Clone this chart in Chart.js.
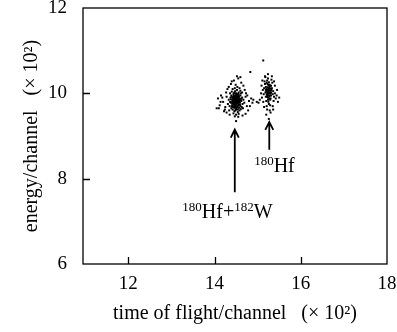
<!DOCTYPE html>
<html>
<head>
<meta charset="utf-8">
<script src="https://cdn.jsdelivr.net/npm/chart.js@4"></script>
<style>
  html, body { margin: 0; padding: 0; background: #fff; }
  #wrap { width: 397px; height: 332px; }
</style>
</head>
<body>
<div id="wrap"><canvas id="tofChart"></canvas></div>
<script>
// time of flight (x100 channel) / energy (x100 channel)
const hfwTof = [
  14.50,14.45,14.55,14.48,14.52,14.42,14.58,14.47,14.53,14.40,14.60,14.44,14.56,14.51,14.49,14.38,14.62,14.46,14.54,14.43,
  14.57,14.50,14.41,14.59,14.36,14.64,14.48,14.52,14.45,14.55,14.39,14.61,14.47,14.53,14.44,14.56,14.50,14.50,14.35,14.65,
  14.42,14.58,14.46,14.54,14.40,14.60,14.37,14.63,14.49,14.51,14.46,14.54,14.43,14.57,14.48,14.52,14.45,14.55,14.41,14.59,
  14.47,14.53,14.33,14.67,14.39,14.61,14.44,14.56,14.50,14.36,14.64,14.42,14.58,14.49,14.31,14.69,14.34,14.66,14.47,14.55,
  14.28,14.72,14.25,14.75,14.20,14.80,14.15,14.10,14.05,14.08,14.12,14.22,14.78,14.30,14.70,14.38,14.62,14.45,14.55,14.52,
  14.40,14.35,14.65,14.28,14.72,14.50,14.18,14.82,14.85,14.88,14.27,14.73,14.60,14.33,14.67,14.24,14.76,14.14,14.83,14.90,
  14.48,14.52,14.46,14.54,14.50,14.50,14.44,14.56,14.47,14.53,14.43,14.57,14.49,14.51,14.45,14.55,14.41,14.59,14.48,14.52,
  14.46,14.54,14.40,14.60,14.44,14.56,14.49,14.51,14.47,14.53,14.42,14.58,14.50,14.50,14.45,14.55,14.38,14.62,14.46,14.54
];
const hfwEnergy = [
  9.85,9.90,9.80,9.78,9.95,9.83,9.88,9.72,9.70,9.92,9.95,9.98,10.02,9.88,9.81,9.86,9.82,9.75,9.76,9.68,
  9.66,9.62,9.76,9.73,9.80,9.90,10.05,10.08,10.00,9.93,9.95,10.00,9.92,9.86,9.87,9.84,9.74,9.97,9.70,9.75,
  9.62,9.60,9.58,9.56,10.04,10.06,9.90,9.68,9.66,9.90,9.82,9.83,9.79,9.79,9.87,9.81,9.94,9.71,9.72,9.85,
  10.12,10.15,9.85,9.85,9.65,9.63,9.53,9.52,9.50,10.00,10.02,10.10,10.12,10.20,9.75,9.78,9.60,9.65,9.46,9.45,
  9.92,9.92,9.68,9.70,9.80,9.82,9.95,9.65,9.65,9.88,9.72,9.58,9.60,10.10,10.08,10.22,10.25,10.30,10.35,10.40,
  10.28,9.50,9.48,9.55,9.52,9.35,9.90,9.70,9.88,9.78,10.02,10.00,10.38,10.15,10.18,9.62,9.95,9.80,10.50,9.85,
  9.84,9.88,9.80,9.90,9.78,9.92,9.76,9.74,9.70,9.68,9.90,9.92,9.95,9.64,9.86,9.86,9.81,9.78,9.60,9.98,
  10.02,9.62,9.69,9.70,9.93,9.96,9.73,9.83,9.89,9.77,9.86,9.82,10.00,9.69,9.73,9.99,9.78,9.87,9.66,9.93
];
const hfTof = [
  15.25,15.20,15.30,15.22,15.28,15.18,15.32,15.24,15.26,15.15,15.35,15.21,15.29,15.23,15.27,15.19,15.31,15.25,15.17,15.33,
  15.22,15.28,15.14,15.36,15.20,15.30,15.24,15.26,15.16,15.34,15.12,15.38,15.21,15.29,15.18,15.32,15.25,15.23,15.27,15.19,
  15.31,15.10,15.40,15.13,15.37,15.22,15.28,15.15,15.35,15.42,15.45,15.08,15.05,15.02,14.98,15.44,15.40,15.11,15.20,15.30,
  15.26,15.17,15.33,15.13,15.47,15.50,15.38,15.24,15.09,15.36,
  15.24,15.26,15.22,15.28,15.25,15.25,15.21,15.29,15.23,15.27,15.20,15.30,15.24,15.26,15.22,15.28,15.19,15.31,15.23,15.27
];
const hfEnergy = [
  10.05,10.10,10.00,9.95,10.15,10.02,10.08,9.90,10.20,10.12,9.98,10.25,9.85,10.03,10.07,9.92,10.18,9.80,10.22,10.12,
  10.30,9.95,9.98,10.05,9.82,9.88,10.35,9.75,10.28,10.25,10.08,9.92,9.70,9.72,10.38,10.32,10.12,9.98,9.93,10.15,
  9.95,9.90,10.00,9.80,9.82,9.62,9.60,9.68,9.70,9.88,10.08,10.00,9.85,9.78,9.80,9.95,10.18,10.30,9.50,9.55,
  9.40,10.40,10.40,10.77,9.80,9.90,10.28,10.45,10.18,9.62,
  10.00,10.10,10.08,10.02,9.95,10.18,9.98,10.11,10.22,9.88,10.04,10.06,9.85,10.26,9.92,10.20,10.08,10.02,10.14,10.00
];

const xTicks = [12, 14, 16, 18];
const yTicks = [6, 8, 10, 12];

// arrows: x, tail energy, head energy
const arrowTof = [14.47, 15.27];
const arrowFrom = [7.68, 8.68];
const arrowTo = [9.15, 9.33];

// peak labels
const labelTof = [14.30, 15.39];
const labelEnergy = [7.08, 8.15];
const labelParts = [
  [['180', true], ['Hf+', false], ['182', true], ['W', false]],
  [['180', true], ['Hf', false]]
];

const serif = "'Liberation Serif', 'DejaVu Serif', serif";

const frame = {
  id: 'frame',
  afterDatasetsDraw(chart) {
    const { ctx, chartArea: a, scales: { x, y } } = chart;
    ctx.save();
    ctx.strokeStyle = '#000';
    ctx.lineWidth = 1.3;
    ctx.strokeRect(a.left, a.top, a.right - a.left, a.bottom - a.top);
    // inward ticks
    ctx.beginPath();
    [12, 14, 16].forEach(v => {
      const px = Math.round(x.getPixelForValue(v)) + 0.5;
      ctx.moveTo(px, a.bottom); ctx.lineTo(px, a.bottom - 7);
    });
    [8, 10].forEach(v => {
      const py = Math.round(y.getPixelForValue(v)) + 0.5;
      ctx.moveTo(a.left, py); ctx.lineTo(a.left + 7, py);
    });
    ctx.stroke();

    // arrows
    ctx.lineWidth = 1.8;
    arrowTof.forEach((t, i) => {
      const px = x.getPixelForValue(t);
      const y0 = y.getPixelForValue(arrowFrom[i]);
      const y1 = y.getPixelForValue(arrowTo[i]);
      ctx.beginPath();
      ctx.moveTo(px, y0); ctx.lineTo(px, y1);
      ctx.moveTo(px - 4, y1 + 8); ctx.lineTo(px, y1); ctx.lineTo(px + 4, y1 + 8);
      ctx.stroke();
    });

    // labels with superscripts
    ctx.fillStyle = '#000';
    ctx.textBaseline = 'alphabetic';
    ctx.textAlign = 'left';
    const big = '20px ' + serif, small = '13px ' + serif;
    labelParts.forEach((parts, i) => {
      let w = 0;
      parts.forEach(([t, sup]) => { ctx.font = sup ? small : big; w += ctx.measureText(t).width; });
      let cx = x.getPixelForValue(labelTof[i]) - w / 2;
      const base = y.getPixelForValue(labelEnergy[i]);
      parts.forEach(([t, sup]) => {
        ctx.font = sup ? small : big;
        ctx.fillText(t, cx, sup ? base - 7 : base);
        cx += ctx.measureText(t).width;
      });
    });
    ctx.restore();
  }
};

new Chart(document.getElementById('tofChart'), {
  type: 'scatter',
  data: {
    datasets: [
      { data: hfwTof.map((t, i) => ({ x: t, y: hfwEnergy[i] })) },
      { data: hfTof.map((t, i) => ({ x: t, y: hfEnergy[i] })) }
    ]
  },
  options: {
    responsive: true,
    maintainAspectRatio: false,
    animation: false,
    layout: { padding: { top: 8, right: 10, left: 0, bottom: 0 } },
    elements: {
      point: { pointStyle: 'rect', radius: 1.4, backgroundColor: '#000', borderWidth: 0 }
    },
    plugins: { legend: { display: false }, tooltip: { enabled: false } },
    scales: {
      x: {
        type: 'linear',
        min: 10.95,
        max: 18,
        afterBuildTicks: s => { s.ticks = xTicks.map(v => ({ value: v })); },
        afterFit: s => { s.height = 68; s.paddingLeft = 0; s.paddingRight = 0; },
        grid: { display: false, drawTicks: false },
        border: { display: false },
        ticks: { color: '#000', padding: 9, font: { family: serif, size: 19 } },
        title: {
          display: true,
          text: 'time of flight/channel   (× 10²)',
          color: '#000',
          font: { family: serif, size: 20 },
          padding: { top: 0, bottom: 6 }
        }
      },
      y: {
        type: 'linear',
        min: 6,
        max: 12,
        afterBuildTicks: s => { s.ticks = yTicks.map(v => ({ value: v })); },
        afterFit: s => { s.width = 83; s.paddingTop = 0; s.paddingBottom = 0; },
        grid: { display: false, drawTicks: false },
        border: { display: false },
        ticks: { color: '#000', padding: 16, font: { family: serif, size: 19 } },
        title: {
          display: true,
          text: 'energy/channel   (× 10²)',
          color: '#000',
          font: { family: serif, size: 20 },
          padding: { top: 20, bottom: 0 }
        }
      }
    }
  },
  plugins: [frame]
});
</script>
</body>
</html>
